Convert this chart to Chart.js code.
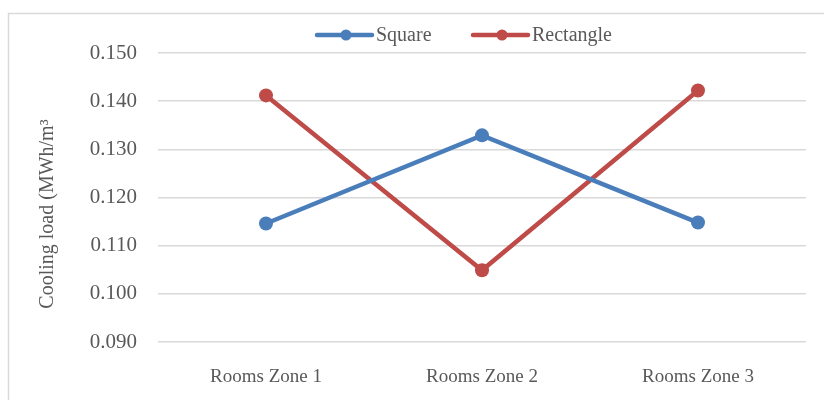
<!DOCTYPE html>
<html>
<head>
<meta charset="utf-8">
<script src="https://cdn.jsdelivr.net/npm/chart.js@4.4.1/dist/chart.umd.min.js"></script>
<style>
  html, body { margin: 0; padding: 0; background: #fff; }
  #wrap { width: 824px; height: 400px; position: relative; }
</style>
</head>
<body>
<div id="wrap"><canvas id="chart"></canvas></div>
<script>
// Chart data
const zones = ['Rooms Zone 1', 'Rooms Zone 2', 'Rooms Zone 3'];
const squareLoad = [0.1146, 0.1329, 0.1148];
const rectangleLoad = [0.1412, 0.1049, 0.1422];
const seriesNames = ['Square', 'Rectangle'];
const yTicks = [0.09, 0.1, 0.11, 0.12, 0.13, 0.14, 0.15];
const yTitle = 'Cooling load (MWh/m³';

const BLUE = '#4A7EBB';
const RED = '#BE4B48';
const TEXT = '#595959';
const GRID = '#d9d9d9';
const FONT = "'Liberation Serif', 'Times New Roman', serif";

// frame, y title and line-with-dot legend like the original
const decor = {
  id: 'decor',
  beforeDraw(chart) {
    const ctx = chart.ctx;
    ctx.save();
    ctx.strokeStyle = GRID;
    ctx.lineWidth = 1.5;
    ctx.beginPath();
    ctx.moveTo(8.5, 400);
    ctx.lineTo(8.5, 13.5);
    ctx.lineTo(824, 13.5);
    ctx.stroke();
    ctx.restore();
  },
  afterDraw(chart) {
    const ctx = chart.ctx;
    const starts = [317, 473];
    const y = 35;
    ctx.save();
    chart.data.datasets.forEach((ds, i) => {
      const x0 = starts[i];
      ctx.strokeStyle = ds.borderColor;
      ctx.lineWidth = 4.5;
      ctx.lineCap = 'round';
      ctx.beginPath();
      ctx.moveTo(x0, y);
      ctx.lineTo(x0 + 55, y);
      ctx.stroke();
      ctx.fillStyle = ds.borderColor;
      ctx.beginPath();
      ctx.arc(x0 + 29, y, 5.5, 0, Math.PI * 2);
      ctx.fill();
      ctx.fillStyle = TEXT;
      ctx.font = `20px ${FONT}`;
      ctx.textBaseline = 'middle';
      ctx.fillText(ds.label, x0 + 59, y + 1);
    });

    // rotated axis title
    ctx.translate(48, 214);
    ctx.rotate(-Math.PI / 2);
    ctx.fillStyle = TEXT;
    ctx.font = `20px ${FONT}`;
    ctx.textAlign = 'center';
    ctx.textBaseline = 'middle';
    ctx.fillText(yTitle, 0, 0);
    ctx.restore();
  }
};

new Chart(document.getElementById('chart'), {
  type: 'line',
  data: {
    labels: zones,
    datasets: [
      {
        label: seriesNames[0],
        data: squareLoad,
        borderColor: BLUE,
        backgroundColor: BLUE,
        borderWidth: 4.5,
        pointRadius: 7,
        pointBorderWidth: 0,
        pointHoverRadius: 7,
        tension: 0
      },
      {
        label: seriesNames[1],
        data: rectangleLoad,
        borderColor: RED,
        backgroundColor: RED,
        borderWidth: 4.5,
        pointRadius: 7,
        pointBorderWidth: 0,
        pointHoverRadius: 7,
        tension: 0
      }
    ]
  },
  options: {
    responsive: true,
    maintainAspectRatio: false,
    animation: false,
    layout: { padding: { left: 35, right: 18, top: 53, bottom: 0 } },
    plugins: {
      legend: { display: false },
      tooltip: { enabled: false }
    },
    scales: {
      x: {
        offset: true,
        grid: { display: false },
        border: { display: false },
        ticks: {
          color: TEXT,
          font: { family: FONT, size: 19 },
          padding: 16
        },
        afterFit: (s) => { s.height = 58; }
      },
      y: {
        min: 0.09,
        max: 0.15,
        afterBuildTicks: (s) => { s.ticks = yTicks.map((v) => ({ value: v })); },
        grid: { color: GRID, lineWidth: 1.5, drawTicks: false },
        border: { display: false },
        ticks: {
          color: TEXT,
          font: { family: FONT, size: 21 },
          padding: 21,
          callback: (v) => Number(v).toFixed(3)
        },
        afterFit: (s) => { s.width = 123; }
      }
    }
  },
  plugins: [decor]
});
</script>
</body>
</html>
